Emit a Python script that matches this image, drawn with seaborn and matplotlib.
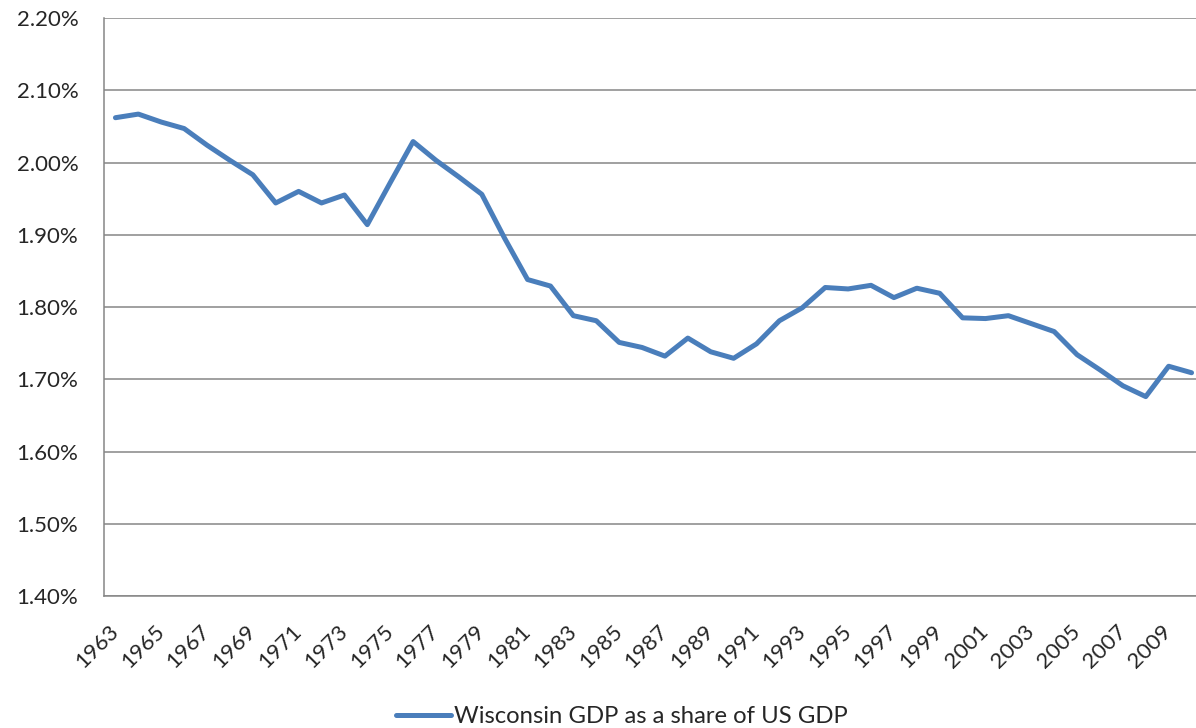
import numpy as np
import pandas as pd
import matplotlib
matplotlib.use("Agg")
import matplotlib.pyplot as plt
import seaborn as sns
from matplotlib.ticker import FixedLocator, FuncFormatter

years = list(range(1963, 2011))
share_pct = [
    2.062, 2.067, 2.056, 2.047, 2.024, 2.003, 1.983, 1.944, 1.960, 1.944,
    1.955, 1.914, 1.972, 2.029, 2.003, 1.980, 1.956, 1.895, 1.838, 1.829,
    1.788, 1.781, 1.751, 1.744, 1.732, 1.757, 1.738, 1.729, 1.749, 1.781,
    1.799, 1.827, 1.825, 1.830, 1.813, 1.826, 1.819, 1.785, 1.784, 1.788,
    1.777, 1.766, 1.734, 1.713, 1.691, 1.676, 1.718, 1.709,
]
series_label = "Wisconsin GDP as a share of US GDP"

df = pd.DataFrame({"pos": np.arange(len(years)), "share": share_pct})

sns.set_style("white")
plt.rcParams["font.family"] = ["Lato", "DejaVu Sans"]

GRID = "#868686"
BLUE = "#4A7EBB"

fig = plt.figure(figsize=(11.96, 7.28), dpi=100)
ax = fig.add_axes([104 / 1196, 1 - 596 / 728, (1203 - 104) / 1196, (596 - 18) / 728])

sns.lineplot(data=df, x="pos", y="share", ax=ax, color=BLUE, linewidth=3.6,
             label=series_label, legend=False)

ax.set_xlim(-0.5, len(years) - 0.5)
ax.set_ylim(1.40, 2.20)
ax.set_yticks(np.arange(1.40, 2.201, 0.10))
ax.yaxis.set_major_formatter(FuncFormatter(lambda v, p: f"{v:.2f}%"))
ax.grid(axis="y", color=GRID, linewidth=1.1)
ax.set_axisbelow(True)

# category axis: boundary ticks, labels every second year
label_pos = list(range(0, len(years), 2))
ax.xaxis.set_major_locator(FixedLocator(label_pos))
ax.set_xticklabels([str(years[i]) for i in label_pos], rotation=45,
                   ha="right", va="center", rotation_mode="anchor")
ax.xaxis.set_minor_locator(FixedLocator(np.arange(-0.5, len(years), 1.0)))
ax.tick_params(axis="x", which="major", length=0, pad=23, labelsize=16)
ax.tick_params(axis="x", which="minor", length=6, color=GRID, width=1.1)
ax.tick_params(axis="y", length=6.5, color=GRID, width=1.1, labelsize=16, pad=12)

for side in ["top", "right"]:
    ax.spines[side].set_visible(False)
for side in ["left", "bottom"]:
    ax.spines[side].set_color(GRID)
    ax.spines[side].set_linewidth(1.1)

ax.set_xlabel("")
ax.set_ylabel("")

handles, labels = ax.get_legend_handles_labels()
fig.legend(handles, labels, loc="lower center", bbox_to_anchor=(0.52, -0.028),
           frameon=False, fontsize=17.2, handlelength=2.3, handletextpad=0.1)

fig.savefig("out.png", dpi=100)
